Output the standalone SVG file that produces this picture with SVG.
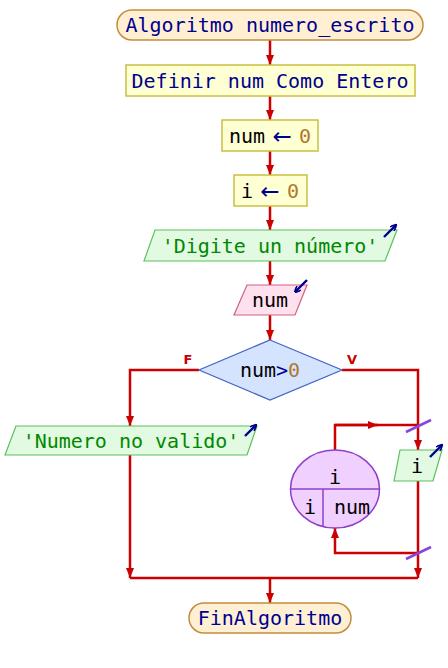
<svg xmlns="http://www.w3.org/2000/svg" width="448" height="668" viewBox="0 0 448 668">
<defs>
<marker id="ah" viewBox="0 0 10 8" refX="10" refY="4" markerWidth="10" markerHeight="8" markerUnits="userSpaceOnUse" orient="auto">
<path d="M0,0 L10,4 L0,8 Z" fill="#cc0000"/>
</marker>
<marker id="bh" viewBox="0 0 10 10" refX="9" refY="5" markerWidth="7" markerHeight="7" markerUnits="userSpaceOnUse" orient="auto">
<path d="M0,0 L10,5 L0,10" fill="none" stroke="#000090" stroke-width="2.5"/>
</marker>
</defs>
<style>
.t{font-family:"DejaVu Sans Mono","Liberation Mono",monospace;font-size:20px;text-anchor:middle;dominant-baseline:central}
.term{fill:#fff0d4;stroke:#c48c3c;stroke-width:1.5}
.proc{fill:#ffffd4;stroke:#c8c040;stroke-width:1.5}
.out{fill:#e2fae2;stroke:#5cc05c;stroke-width:1.2}
.inp{fill:#ffe0ee;stroke:#d06080;stroke-width:1.2}
.dec{fill:#d4e4ff;stroke:#4464c8;stroke-width:1.2}
.loop{fill:#f0d0ff;stroke:#9040c8;stroke-width:1.5}
.kw{fill:#000090}
.arr{fill:#000090;font-family:"DejaVu Sans",sans-serif;font-size:23px}
.var{fill:#000000}
.num{fill:#b07830}
.str{fill:#008800}
.c{fill:none;stroke:#cc0000;stroke-width:2.5}
.ca{fill:none;stroke:#cc0000;stroke-width:2.5;marker-end:url(#ah)}
.io{stroke:#000090;stroke-width:2.4;fill:none;marker-end:url(#bh)}
.sl{stroke:#8844dd;stroke-width:2.5}
.lbl{font-family:"DejaVu Sans","Liberation Sans",sans-serif;font-size:13px;font-weight:bold;fill:#cc0000;text-anchor:middle}
</style>
<g id="connectors">
<line class="ca" x1="270" y1="40" x2="270" y2="65"/>
<line class="ca" x1="270" y1="96" x2="270" y2="120"/>
<line class="ca" x1="270" y1="151" x2="270" y2="175"/>
<line class="ca" x1="270" y1="206" x2="270" y2="230"/>
<line class="ca" x1="270" y1="261" x2="270" y2="285"/>
<line class="ca" x1="270" y1="315" x2="270" y2="340"/>
<polyline class="ca" points="199,370 130,370 130,426"/>
<polyline class="ca" points="342,370 418,370 418,450"/>
<line class="ca" x1="130" y1="455" x2="130" y2="578"/>
<line class="ca" x1="418" y1="481" x2="418" y2="578"/>
<line class="c" x1="130" y1="578" x2="418" y2="578"/>
<line class="ca" x1="270" y1="578" x2="270" y2="603"/>
<polyline class="c" points="335,450 335,425 418,425"/>
<line class="ca" x1="335" y1="425" x2="378" y2="425"/>
<polyline class="ca" points="418,553 335,553 335,528"/>
<line class="sl" x1="406" y1="432" x2="431" y2="420"/>
<line class="sl" x1="406" y1="559" x2="431" y2="547"/>
<text class="lbl" x="188" y="364">F</text>
<text class="lbl" x="352" y="364">V</text>
</g>
<g id="start">
<rect class="term" x="117" y="10" width="306" height="30" rx="15"/>
<text class="t kw" x="270" y="25">Algoritmo numero_escrito</text>
</g>
<g id="define">
<rect class="proc" x="126" y="65" width="289" height="31"/>
<text class="t kw" x="270" y="80.5">Definir num Como Entero</text>
</g>
<g id="assign_num">
<rect class="proc" x="222" y="120" width="96" height="31"/>
<text class="t" x="270" y="135.5"><tspan class="var">num</tspan><tspan class="arr"> ← </tspan><tspan class="num">0</tspan></text>
</g>
<g id="assign_i">
<rect class="proc" x="234" y="175" width="73" height="31"/>
<text class="t" x="270" y="190.5"><tspan class="var">i</tspan><tspan class="arr"> ← </tspan><tspan class="num">0</tspan></text>
</g>
<g id="write_prompt">
<polygon class="out" points="155,230 397,230 385,261 144,261"/>
<text class="t str" x="270" y="245.5">'Digite un número'</text>
<line class="io" x1="384" y1="237" x2="396" y2="225"/>
</g>
<g id="read_num">
<polygon class="inp" points="247,285 307,285 295,315 234,315"/>
<text class="t var" x="270" y="300">num</text>
<line class="io" x1="307" y1="280" x2="295" y2="292"/>
</g>
<g id="decision">
<polygon class="dec" points="270,340 342,370 270,400 199,370"/>
<text class="t" x="270" y="370"><tspan class="var">num</tspan><tspan class="kw">&gt;</tspan><tspan class="num">0</tspan></text>
</g>
<g id="write_invalid">
<polygon class="out" points="16,426 257,426 247,455 5,455"/>
<text class="t str" x="131" y="440.5">'Numero no valido'</text>
<line class="io" x1="245" y1="436" x2="256" y2="425"/>
</g>
<g id="for_loop">
<ellipse class="loop" cx="335" cy="489" rx="44.5" ry="39"/>
<line x1="290.5" y1="489" x2="379.5" y2="489" stroke="#9040c8" stroke-width="1.5"/>
<line x1="323" y1="489" x2="323" y2="527" stroke="#9040c8" stroke-width="1.5"/>
<text class="t var" x="335" y="477">i</text>
<text class="t var" x="310" y="507">i</text>
<text class="t var" x="352" y="507">num</text>
</g>
<g id="write_i">
<polygon class="out" points="400,450 442,450 433,481 394,481"/>
<text class="t var" x="417" y="465.5">i</text>
<line class="io" x1="430" y1="457" x2="442" y2="445"/>
</g>
<g id="end">
<rect class="term" x="189" y="603" width="162" height="30" rx="15"/>
<text class="t kw" x="270" y="618">FinAlgoritmo</text>
</g>
</svg>
